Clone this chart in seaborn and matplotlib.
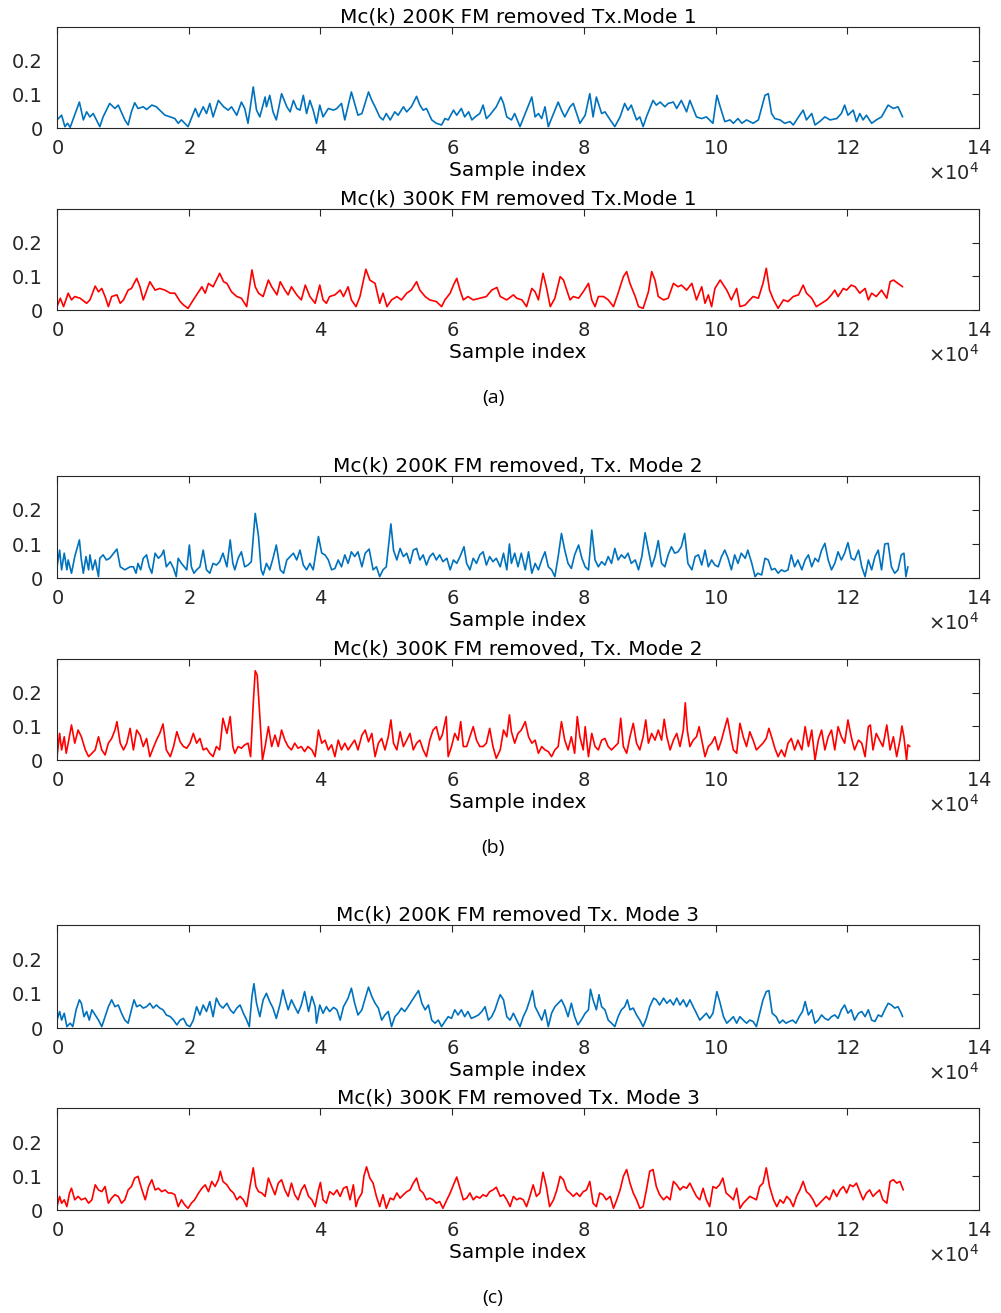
import numpy as np
import matplotlib
matplotlib.use("Agg")
import matplotlib.pyplot as plt
import seaborn as sns

# Sample positions are given in units of 1e4 samples, magnitudes of Mc(k).

# Tx. Mode 1, 200K FM removed
m1_200_k = [0.00, 0.07, 0.12, 0.16, 0.20, 0.34, 0.40, 0.45, 0.50, 0.55, 0.65, 0.70, 0.80, 0.88, 0.93,
            1.03, 1.08, 1.13, 1.18, 1.23, 1.31, 1.36, 1.44, 1.51, 1.56, 1.64, 1.72, 1.79, 1.84, 1.89,
            1.99, 2.10, 2.15, 2.22, 2.27, 2.32, 2.37, 2.45, 2.53, 2.60, 2.65, 2.73, 2.80, 2.85, 2.90,
            2.98, 3.03, 3.08, 3.16, 3.18, 3.23, 3.28, 3.33, 3.41, 3.49, 3.54, 3.59, 3.64, 3.69, 3.74,
            3.79, 3.84, 3.89, 3.94, 3.99, 4.04, 4.12, 4.20, 4.25, 4.32, 4.37, 4.47, 4.52, 4.57, 4.63,
            4.73, 4.78, 4.83, 4.90, 4.95, 5.00, 5.06, 5.13, 5.18, 5.26, 5.31, 5.38, 5.46, 5.51, 5.56,
            5.61, 5.69, 5.76, 5.84, 5.89, 5.94, 6.02, 6.07, 6.14, 6.19, 6.25, 6.30, 6.35, 6.42, 6.47,
            6.52, 6.57, 6.67, 6.74, 6.78, 6.83, 6.90, 6.95, 7.03, 7.11, 7.21, 7.26, 7.31, 7.36, 7.41,
            7.46, 7.54, 7.61, 7.66, 7.71, 7.79, 7.84, 7.89, 7.94, 8.02, 8.09, 8.14, 8.19, 8.27, 8.32,
            8.40, 8.47, 8.55, 8.62, 8.67, 8.72, 8.80, 8.85, 8.90, 8.95, 9.05, 9.10, 9.16, 9.23, 9.28,
            9.36, 9.41, 9.48, 9.56, 9.61, 9.71, 9.79, 9.86, 9.96, 10.02, 10.07, 10.14, 10.22, 10.27,
            10.34, 10.40, 10.47, 10.57, 10.65, 10.75, 10.80, 10.85, 10.90, 10.98, 11.05, 11.13, 11.18,
            11.26, 11.33, 11.38, 11.46, 11.51, 11.58, 11.66, 11.74, 11.84, 11.91, 11.96, 12.01, 12.09,
            12.14, 12.19, 12.24, 12.29, 12.37, 12.44, 12.52, 12.62, 12.70, 12.77, 12.84]
m1_200_v = [0.024, 0.038, 0.004, 0.014, 0.002, 0.077, 0.024, 0.048, 0.033, 0.043, 0.004, 0.033, 0.073, 0.058, 0.068,
            0.024, 0.009, 0.048, 0.075, 0.058, 0.063, 0.055, 0.068, 0.063, 0.053, 0.038, 0.033, 0.028, 0.014, 0.024,
            0.004, 0.058, 0.033, 0.063, 0.043, 0.073, 0.033, 0.082, 0.063, 0.053, 0.063, 0.038, 0.077, 0.058, 0.014,
            0.122, 0.053, 0.033, 0.092, 0.063, 0.097, 0.048, 0.024, 0.102, 0.063, 0.048, 0.082, 0.058, 0.053, 0.097,
            0.043, 0.082, 0.053, 0.014, 0.068, 0.033, 0.058, 0.053, 0.058, 0.073, 0.024, 0.107, 0.073, 0.038, 0.043,
            0.107, 0.082, 0.063, 0.033, 0.024, 0.043, 0.024, 0.048, 0.038, 0.063, 0.048, 0.063, 0.094, 0.068, 0.053,
            0.058, 0.024, 0.014, 0.009, 0.028, 0.024, 0.053, 0.038, 0.058, 0.033, 0.048, 0.024, 0.033, 0.043, 0.068,
            0.028, 0.038, 0.063, 0.092, 0.073, 0.033, 0.024, 0.043, 0.004, 0.043, 0.092, 0.033, 0.043, 0.028, 0.063,
            0.004, 0.043, 0.077, 0.053, 0.033, 0.063, 0.073, 0.043, 0.014, 0.038, 0.102, 0.033, 0.092, 0.043, 0.048,
            0.024, 0.004, 0.033, 0.073, 0.053, 0.068, 0.024, 0.033, 0.004, 0.033, 0.082, 0.068, 0.077, 0.063, 0.073,
            0.077, 0.058, 0.082, 0.048, 0.082, 0.033, 0.028, 0.033, 0.014, 0.097, 0.063, 0.019, 0.024, 0.014,
            0.028, 0.014, 0.024, 0.014, 0.024, 0.097, 0.102, 0.043, 0.028, 0.024, 0.014, 0.019, 0.009,
            0.033, 0.053, 0.024, 0.043, 0.009, 0.019, 0.033, 0.024, 0.028, 0.043, 0.068, 0.038, 0.053,
            0.019, 0.043, 0.024, 0.038, 0.014, 0.024, 0.033, 0.068, 0.058, 0.063, 0.033]

# Tx. Mode 1, 300K FM removed
m1_300_k = [0.00, 0.05, 0.10, 0.17, 0.22, 0.27, 0.35, 0.45, 0.50, 0.58, 0.63, 0.68, 0.73, 0.78, 0.83,
            0.91, 0.96, 1.01, 1.08, 1.13, 1.21, 1.26, 1.31, 1.41, 1.49, 1.56, 1.64, 1.72, 1.79, 1.87,
            1.92, 1.99, 2.07, 2.12, 2.20, 2.25, 2.30, 2.37, 2.42, 2.47, 2.53, 2.58, 2.65, 2.73, 2.80,
            2.88, 2.96, 3.01, 3.06, 3.13, 3.21, 3.26, 3.34, 3.39, 3.46, 3.51, 3.56, 3.64, 3.71, 3.77,
            3.84, 3.92, 3.99, 4.04, 4.09, 4.14, 4.22, 4.30, 4.35, 4.42, 4.47, 4.54, 4.60, 4.69, 4.75,
            4.83, 4.90, 4.95, 5.01, 5.08, 5.16, 5.23, 5.31, 5.38, 5.46, 5.51, 5.59, 5.66, 5.76, 5.84,
            5.89, 5.97, 6.02, 6.07, 6.12, 6.17, 6.24, 6.32, 6.42, 6.52, 6.60, 6.68, 6.73, 6.83, 6.93,
            6.98, 7.06, 7.13, 7.21, 7.26, 7.31, 7.38, 7.43, 7.49, 7.56, 7.64, 7.69, 7.74, 7.79, 7.84,
            7.92, 7.99, 8.07, 8.12, 8.17, 8.22, 8.30, 8.37, 8.45, 8.52, 8.60, 8.65, 8.70, 8.78, 8.83,
            8.90, 8.98, 9.03, 9.08, 9.13, 9.21, 9.28, 9.36, 9.43, 9.48, 9.56, 9.64, 9.71, 9.79, 9.84,
            9.89, 9.94, 9.99, 10.07, 10.12, 10.17, 10.24, 10.32, 10.37, 10.45, 10.52, 10.57, 10.65,
            10.72, 10.77, 10.82, 10.88, 10.95, 11.03, 11.10, 11.18, 11.26, 11.33, 11.38, 11.46, 11.53,
            11.61, 11.69, 11.76, 11.81, 11.86, 11.94, 11.99, 12.06, 12.12, 12.19, 12.27, 12.32, 12.37,
            12.44, 12.52, 12.60, 12.65, 12.70, 12.77, 12.84]
m1_300_v = [0.010, 0.035, 0.010, 0.050, 0.030, 0.040, 0.035, 0.020, 0.030, 0.071, 0.054, 0.064, 0.040, 0.010, 0.040,
            0.045, 0.020, 0.030, 0.059, 0.064, 0.094, 0.069, 0.030, 0.084, 0.059, 0.064, 0.059, 0.050, 0.050, 0.025,
            0.015, 0.005, 0.030, 0.045, 0.069, 0.050, 0.079, 0.069, 0.089, 0.109, 0.084, 0.079, 0.054, 0.040, 0.035,
            0.010, 0.119, 0.069, 0.050, 0.040, 0.089, 0.069, 0.045, 0.084, 0.059, 0.045, 0.069, 0.045, 0.030, 0.074,
            0.040, 0.020, 0.074, 0.030, 0.020, 0.040, 0.045, 0.059, 0.040, 0.069, 0.030, 0.010, 0.040, 0.121, 0.089,
            0.079, 0.020, 0.050, 0.010, 0.030, 0.040, 0.030, 0.050, 0.059, 0.084, 0.059, 0.040, 0.030, 0.025, 0.010,
            0.030, 0.050, 0.074, 0.094, 0.059, 0.030, 0.040, 0.030, 0.035, 0.040, 0.059, 0.067, 0.040, 0.030, 0.045,
            0.035, 0.030, 0.010, 0.064, 0.054, 0.030, 0.109, 0.069, 0.010, 0.035, 0.099, 0.089, 0.059, 0.030, 0.040,
            0.035, 0.054, 0.079, 0.030, 0.010, 0.040, 0.040, 0.030, 0.010, 0.050, 0.099, 0.114, 0.079, 0.040, 0.010,
            0.005, 0.054, 0.114, 0.089, 0.040, 0.030, 0.035, 0.079, 0.069, 0.074, 0.059, 0.079, 0.030, 0.069, 0.020,
            0.045, 0.010, 0.064, 0.089, 0.074, 0.059, 0.030, 0.064, 0.010, 0.015, 0.030, 0.040, 0.035,
            0.079, 0.124, 0.059, 0.030, 0.005, 0.030, 0.025, 0.040, 0.045, 0.074, 0.050, 0.035, 0.010,
            0.020, 0.030, 0.045, 0.059, 0.040, 0.064, 0.059, 0.074, 0.069, 0.050, 0.064, 0.030, 0.050,
            0.040, 0.059, 0.035, 0.084, 0.089, 0.079, 0.069]

# Tx. Mode 2, 200K FM removed
m2_200_k = [0.00, 0.04, 0.07, 0.11, 0.15, 0.17, 0.22, 0.27, 0.34, 0.37, 0.40, 0.44, 0.48, 0.50, 0.54,
            0.58, 0.63, 0.65, 0.70, 0.75, 0.80, 0.86, 0.91, 0.96, 1.03, 1.11, 1.16, 1.20, 1.23, 1.27,
            1.31, 1.36, 1.40, 1.44, 1.49, 1.54, 1.59, 1.62, 1.66, 1.72, 1.77, 1.81, 1.84, 1.89, 1.97,
            2.01, 2.04, 2.08, 2.12, 2.17, 2.22, 2.27, 2.32, 2.37, 2.42, 2.47, 2.52, 2.58, 2.63, 2.67,
            2.70, 2.75, 2.80, 2.85, 2.90, 2.95, 3.01, 3.06, 3.10, 3.13, 3.18, 3.23, 3.28, 3.33, 3.39,
            3.44, 3.49, 3.54, 3.59, 3.64, 3.69, 3.74, 3.79, 3.84, 3.89, 3.97, 4.02, 4.07, 4.12, 4.17,
            4.22, 4.27, 4.32, 4.37, 4.42, 4.47, 4.52, 4.57, 4.63, 4.68, 4.74, 4.80, 4.85, 4.90, 4.95,
            5.00, 5.07, 5.11, 5.16, 5.21, 5.26, 5.31, 5.36, 5.41, 5.46, 5.51, 5.56, 5.61, 5.66, 5.71,
            5.76, 5.81, 5.86, 5.92, 5.97, 6.02, 6.07, 6.12, 6.18, 6.22, 6.27, 6.32, 6.37, 6.42, 6.47,
            6.52, 6.57, 6.62, 6.67, 6.73, 6.78, 6.83, 6.87, 6.90, 6.95, 7.00, 7.05, 7.11, 7.16, 7.21,
            7.26, 7.31, 7.36, 7.41, 7.46, 7.51, 7.56, 7.61, 7.66, 7.71, 7.76, 7.81, 7.86, 7.92, 7.97,
            8.02, 8.07, 8.12, 8.17, 8.22, 8.27, 8.32, 8.37, 8.42, 8.47, 8.52, 8.57, 8.62, 8.67, 8.72,
            8.78, 8.83, 8.88, 8.93, 8.98, 9.03, 9.08, 9.13, 9.18, 9.23, 9.28, 9.33, 9.38, 9.43, 9.48,
            9.53, 9.58, 9.64, 9.69, 9.74, 9.79, 9.84, 9.89, 9.94, 9.99, 10.04, 10.09, 10.14, 10.19,
            10.24, 10.29, 10.34, 10.39, 10.45, 10.49, 10.55, 10.60, 10.64, 10.70, 10.75, 10.80, 10.85,
            10.90, 10.95, 11.00, 11.05, 11.10, 11.15, 11.20, 11.25, 11.31, 11.36, 11.41, 11.46, 11.51,
            11.56, 11.61, 11.66, 11.71, 11.76, 11.81, 11.86, 11.91, 11.96, 12.01, 12.06, 12.11, 12.17,
            12.22, 12.27, 12.32, 12.37, 12.42, 12.47, 12.52, 12.57, 12.62, 12.67, 12.72, 12.77, 12.82,
            12.86, 12.89, 12.92]
m2_200_v = [0.033, 0.082, 0.024, 0.073, 0.024, 0.053, 0.014, 0.063, 0.112, 0.053, 0.014, 0.063, 0.024, 0.068, 0.024,
            0.053, 0.004, 0.058, 0.068, 0.053, 0.058, 0.073, 0.085, 0.033, 0.024, 0.033, 0.033, 0.014, 0.043, 0.024,
            0.058, 0.068, 0.033, 0.014, 0.073, 0.058, 0.068, 0.082, 0.033, 0.048, 0.028, 0.004, 0.058, 0.043, 0.024,
            0.097, 0.033, 0.014, 0.024, 0.033, 0.082, 0.024, 0.014, 0.043, 0.038, 0.048, 0.073, 0.033, 0.112, 0.043,
            0.024, 0.058, 0.077, 0.033, 0.038, 0.048, 0.190, 0.122, 0.024, 0.009, 0.043, 0.024, 0.058, 0.097, 0.024,
            0.014, 0.053, 0.063, 0.073, 0.053, 0.082, 0.038, 0.024, 0.043, 0.024, 0.122, 0.073, 0.068, 0.053, 0.024,
            0.028, 0.053, 0.033, 0.068, 0.043, 0.077, 0.063, 0.077, 0.033, 0.073, 0.085, 0.024, 0.033, 0.004, 0.024,
            0.033, 0.159, 0.082, 0.053, 0.087, 0.063, 0.073, 0.043, 0.082, 0.087, 0.053, 0.068, 0.038, 0.063, 0.073,
            0.053, 0.068, 0.048, 0.058, 0.024, 0.053, 0.043, 0.063, 0.092, 0.043, 0.024, 0.058, 0.043, 0.068, 0.077,
            0.038, 0.063, 0.048, 0.058, 0.033, 0.073, 0.024, 0.100, 0.043, 0.073, 0.033, 0.073, 0.024, 0.077, 0.014,
            0.043, 0.024, 0.053, 0.077, 0.033, 0.024, 0.004, 0.063, 0.131, 0.082, 0.043, 0.028, 0.068, 0.097, 0.058,
            0.033, 0.024, 0.141, 0.053, 0.033, 0.048, 0.038, 0.063, 0.043, 0.087, 0.053, 0.068, 0.058, 0.073, 0.043,
            0.053, 0.024, 0.063, 0.133, 0.082, 0.033, 0.063, 0.110, 0.043, 0.033, 0.068, 0.092, 0.073, 0.077, 0.092,
            0.131, 0.043, 0.024, 0.063, 0.068, 0.038, 0.082, 0.033, 0.053, 0.038, 0.033, 0.063, 0.082, 0.058,
            0.024, 0.068, 0.043, 0.073, 0.058, 0.082, 0.043, 0.004, 0.014, 0.009, 0.058, 0.053, 0.024,
            0.028, 0.014, 0.024, 0.019, 0.024, 0.068, 0.033, 0.053, 0.024, 0.053, 0.068, 0.033, 0.058,
            0.048, 0.082, 0.102, 0.053, 0.024, 0.043, 0.077, 0.053, 0.073, 0.104, 0.058, 0.053, 0.082,
            0.033, 0.004, 0.053, 0.024, 0.063, 0.082, 0.024, 0.100, 0.102, 0.033, 0.014, 0.024, 0.068,
            0.073, 0.004, 0.033]

# Tx. Mode 2, 300K FM removed
m2_300_k = [0.00, 0.04, 0.07, 0.11, 0.14, 0.17, 0.22, 0.27, 0.32, 0.37, 0.43, 0.48, 0.53, 0.58, 0.63,
            0.68, 0.73, 0.78, 0.83, 0.88, 0.91, 0.96, 1.01, 1.06, 1.11, 1.16, 1.21, 1.26, 1.31, 1.36,
            1.41, 1.46, 1.51, 1.56, 1.61, 1.66, 1.72, 1.77, 1.82, 1.87, 1.92, 1.97, 2.02, 2.07, 2.12,
            2.17, 2.22, 2.27, 2.32, 2.37, 2.42, 2.47, 2.52, 2.58, 2.63, 2.67, 2.70, 2.75, 2.80, 2.85,
            2.90, 2.94, 2.98, 3.01, 3.04, 3.08, 3.12, 3.16, 3.21, 3.26, 3.31, 3.36, 3.41, 3.46, 3.51,
            3.56, 3.61, 3.66, 3.71, 3.76, 3.81, 3.87, 3.92, 3.97, 4.02, 4.07, 4.12, 4.17, 4.22, 4.27,
            4.32, 4.37, 4.42, 4.47, 4.52, 4.57, 4.63, 4.68, 4.73, 4.78, 4.83, 4.88, 4.93, 4.98, 5.03,
            5.07, 5.11, 5.16, 5.21, 5.26, 5.31, 5.36, 5.41, 5.46, 5.51, 5.56, 5.61, 5.66, 5.71, 5.76,
            5.81, 5.85, 5.91, 5.94, 5.99, 6.04, 6.09, 6.13, 6.17, 6.22, 6.27, 6.32, 6.37, 6.42, 6.47,
            6.52, 6.57, 6.62, 6.67, 6.73, 6.78, 6.83, 6.87, 6.90, 6.95, 7.00, 7.05, 7.11, 7.16, 7.21,
            7.26, 7.31, 7.36, 7.41, 7.46, 7.51, 7.56, 7.61, 7.66, 7.71, 7.76, 7.81, 7.86, 7.90, 7.94,
            7.99, 8.02, 8.07, 8.12, 8.17, 8.22, 8.27, 8.32, 8.37, 8.42, 8.47, 8.52, 8.56, 8.60, 8.65,
            8.70, 8.75, 8.80, 8.85, 8.90, 8.94, 8.98, 9.03, 9.08, 9.13, 9.18, 9.22, 9.26, 9.31, 9.36,
            9.41, 9.46, 9.51, 9.54, 9.57, 9.61, 9.66, 9.71, 9.75, 9.79, 9.84, 9.89, 9.94, 9.99, 10.04,
            10.09, 10.13, 10.18, 10.23, 10.27, 10.32, 10.37, 10.42, 10.47, 10.52, 10.57, 10.62, 10.67,
            10.72, 10.77, 10.81, 10.85, 10.90, 10.95, 11.00, 11.05, 11.10, 11.15, 11.20, 11.25, 11.31,
            11.36, 11.41, 11.46, 11.51, 11.56, 11.61, 11.66, 11.71, 11.76, 11.81, 11.86, 11.91, 11.96,
            12.01, 12.06, 12.11, 12.17, 12.22, 12.27, 12.32, 12.35, 12.39, 12.44, 12.49, 12.54, 12.60,
            12.65, 12.70, 12.75, 12.80, 12.83, 12.86, 12.90, 12.92, 12.95]
m2_300_v = [0.010, 0.079, 0.030, 0.069, 0.020, 0.050, 0.104, 0.050, 0.089, 0.069, 0.030, 0.010, 0.020, 0.030, 0.069,
            0.030, 0.015, 0.050, 0.064, 0.089, 0.114, 0.050, 0.030, 0.050, 0.094, 0.030, 0.089, 0.074, 0.040, 0.064,
            0.010, 0.035, 0.059, 0.079, 0.107, 0.030, 0.010, 0.040, 0.084, 0.054, 0.040, 0.035, 0.050, 0.079, 0.050,
            0.064, 0.030, 0.035, 0.020, 0.010, 0.040, 0.030, 0.124, 0.079, 0.129, 0.040, 0.020, 0.040, 0.035, 0.045,
            0.050, 0.010, 0.168, 0.265, 0.252, 0.129, 0.000, 0.040, 0.099, 0.040, 0.074, 0.040, 0.089, 0.059, 0.040,
            0.030, 0.050, 0.035, 0.040, 0.025, 0.040, 0.030, 0.010, 0.089, 0.050, 0.059, 0.030, 0.045, 0.010, 0.059,
            0.030, 0.050, 0.030, 0.045, 0.059, 0.030, 0.074, 0.089, 0.054, 0.079, 0.010, 0.050, 0.064, 0.030, 0.069,
            0.119, 0.050, 0.030, 0.084, 0.040, 0.059, 0.079, 0.030, 0.050, 0.059, 0.030, 0.010, 0.059, 0.089, 0.099,
            0.059, 0.074, 0.129, 0.010, 0.040, 0.079, 0.059, 0.114, 0.040, 0.040, 0.069, 0.099, 0.059, 0.040, 0.040,
            0.050, 0.094, 0.040, 0.005, 0.030, 0.089, 0.069, 0.134, 0.084, 0.050, 0.079, 0.089, 0.114, 0.069, 0.050,
            0.059, 0.020, 0.040, 0.030, 0.025, 0.010, 0.030, 0.040, 0.114, 0.059, 0.030, 0.069, 0.020, 0.129, 0.069,
            0.030, 0.099, 0.010, 0.079, 0.040, 0.030, 0.059, 0.064, 0.040, 0.030, 0.040, 0.050, 0.124, 0.040, 0.020,
            0.069, 0.109, 0.050, 0.030, 0.069, 0.119, 0.050, 0.079, 0.059, 0.089, 0.059, 0.121, 0.069, 0.030, 0.059,
            0.079, 0.040, 0.089, 0.170, 0.089, 0.040, 0.059, 0.069, 0.099, 0.059, 0.010, 0.040, 0.050, 0.069, 0.030,
            0.059, 0.089, 0.124, 0.069, 0.030, 0.020, 0.109, 0.069, 0.040, 0.084, 0.059, 0.030, 0.040,
            0.050, 0.064, 0.094, 0.069, 0.035, 0.010, 0.030, 0.010, 0.050, 0.064, 0.030, 0.059, 0.030,
            0.099, 0.040, 0.089, 0.000, 0.059, 0.089, 0.030, 0.069, 0.089, 0.030, 0.099, 0.069, 0.050,
            0.119, 0.069, 0.030, 0.059, 0.050, 0.010, 0.099, 0.104, 0.030, 0.079, 0.059, 0.040, 0.104,
            0.030, 0.069, 0.010, 0.059, 0.101, 0.069, 0.000, 0.045, 0.040]

# Tx. Mode 3, 200K FM removed
m3_200_k = [0.00, 0.04, 0.07, 0.11, 0.15, 0.20, 0.24, 0.29, 0.34, 0.37, 0.41, 0.45, 0.49, 0.53, 0.58,
            0.63, 0.68, 0.73, 0.78, 0.83, 0.88, 0.93, 0.98, 1.03, 1.08, 1.13, 1.17, 1.21, 1.26, 1.31,
            1.36, 1.41, 1.46, 1.51, 1.56, 1.61, 1.66, 1.72, 1.77, 1.82, 1.87, 1.92, 1.97, 2.02, 2.07,
            2.12, 2.17, 2.22, 2.27, 2.32, 2.37, 2.42, 2.47, 2.52, 2.58, 2.63, 2.68, 2.73, 2.78, 2.83,
            2.88, 2.92, 2.96, 2.99, 3.03, 3.08, 3.13, 3.18, 3.23, 3.28, 3.33, 3.39, 3.43, 3.46, 3.51,
            3.56, 3.61, 3.66, 3.71, 3.76, 3.82, 3.87, 3.92, 3.94, 3.99, 4.04, 4.09, 4.14, 4.20, 4.25,
            4.30, 4.35, 4.42, 4.47, 4.52, 4.57, 4.63, 4.68, 4.73, 4.78, 4.83, 4.88, 4.93, 4.98, 5.03,
            5.08, 5.13, 5.18, 5.23, 5.28, 5.33, 5.38, 5.43, 5.49, 5.54, 5.59, 5.64, 5.69, 5.74, 5.79,
            5.84, 5.89, 5.94, 5.99, 6.04, 6.09, 6.14, 6.19, 6.24, 6.29, 6.35, 6.40, 6.45, 6.50, 6.55,
            6.60, 6.65, 6.70, 6.73, 6.78, 6.83, 6.88, 6.93, 6.98, 7.03, 7.08, 7.13, 7.18, 7.22, 7.26,
            7.31, 7.36, 7.41, 7.46, 7.51, 7.56, 7.61, 7.66, 7.71, 7.76, 7.81, 7.86, 7.91, 7.96, 8.02,
            8.07, 8.10, 8.14, 8.19, 8.23, 8.27, 8.32, 8.37, 8.42, 8.47, 8.52, 8.57, 8.62, 8.66, 8.70,
            8.75, 8.80, 8.85, 8.90, 8.95, 9.00, 9.06, 9.10, 9.15, 9.21, 9.26, 9.31, 9.36, 9.41, 9.46,
            9.51, 9.56, 9.61, 9.66, 9.71, 9.76, 9.81, 9.86, 9.91, 9.96, 10.02, 10.07, 10.12, 10.17,
            10.22, 10.27, 10.32, 10.37, 10.42, 10.47, 10.52, 10.57, 10.62, 10.67, 10.72, 10.77, 10.81,
            10.86, 10.92, 10.97, 11.02, 11.07, 11.12, 11.17, 11.22, 11.27, 11.32, 11.36, 11.41, 11.46,
            11.51, 11.56, 11.61, 11.66, 11.71, 11.76, 11.81, 11.86, 11.91, 11.96, 12.01, 12.06, 12.11,
            12.17, 12.22, 12.27, 12.32, 12.37, 12.42, 12.47, 12.52, 12.57, 12.62, 12.67, 12.72, 12.77,
            12.82, 12.84]
m3_200_v = [0.023, 0.048, 0.023, 0.043, 0.004, 0.014, 0.004, 0.053, 0.082, 0.072, 0.033, 0.048, 0.023, 0.053, 0.038,
            0.023, 0.004, 0.033, 0.062, 0.082, 0.062, 0.067, 0.043, 0.023, 0.014, 0.053, 0.082, 0.062, 0.067, 0.058,
            0.062, 0.072, 0.058, 0.067, 0.058, 0.053, 0.038, 0.033, 0.023, 0.009, 0.023, 0.028, 0.009, 0.004, 0.023,
            0.062, 0.038, 0.067, 0.048, 0.077, 0.033, 0.087, 0.067, 0.058, 0.072, 0.053, 0.043, 0.058, 0.067, 0.043,
            0.023, 0.004, 0.092, 0.129, 0.072, 0.033, 0.082, 0.101, 0.077, 0.058, 0.028, 0.072, 0.111, 0.087, 0.053,
            0.082, 0.062, 0.043, 0.067, 0.106, 0.048, 0.092, 0.062, 0.014, 0.067, 0.043, 0.062, 0.048, 0.060, 0.053,
            0.023, 0.062, 0.087, 0.116, 0.072, 0.038, 0.053, 0.087, 0.119, 0.092, 0.072, 0.058, 0.023, 0.038, 0.048,
            0.004, 0.033, 0.043, 0.058, 0.048, 0.062, 0.077, 0.092, 0.109, 0.072, 0.053, 0.067, 0.023, 0.014, 0.023,
            0.004, 0.019, 0.033, 0.028, 0.053, 0.038, 0.053, 0.033, 0.048, 0.028, 0.033, 0.038, 0.048, 0.062, 0.023,
            0.033, 0.053, 0.082, 0.097, 0.082, 0.033, 0.023, 0.043, 0.023, 0.004, 0.033, 0.053, 0.082, 0.109, 0.062,
            0.043, 0.023, 0.053, 0.004, 0.043, 0.062, 0.072, 0.082, 0.062, 0.033, 0.072, 0.033, 0.009, 0.023, 0.043,
            0.053, 0.113, 0.082, 0.053, 0.097, 0.062, 0.053, 0.023, 0.014, 0.004, 0.033, 0.053, 0.062, 0.082, 0.053,
            0.058, 0.038, 0.023, 0.004, 0.028, 0.062, 0.087, 0.082, 0.067, 0.087, 0.072, 0.082, 0.067, 0.087, 0.067,
            0.082, 0.062, 0.082, 0.062, 0.043, 0.023, 0.033, 0.043, 0.028, 0.043, 0.106, 0.072, 0.033, 0.014,
            0.023, 0.033, 0.014, 0.033, 0.023, 0.014, 0.023, 0.019, 0.004, 0.043, 0.082, 0.106, 0.109,
            0.043, 0.033, 0.014, 0.023, 0.014, 0.019, 0.023, 0.014, 0.033, 0.048, 0.077, 0.038, 0.053,
            0.014, 0.023, 0.038, 0.028, 0.023, 0.033, 0.038, 0.028, 0.053, 0.067, 0.043, 0.053, 0.023,
            0.043, 0.048, 0.033, 0.053, 0.023, 0.019, 0.038, 0.033, 0.053, 0.072, 0.067, 0.058, 0.062,
            0.043, 0.033]

# Tx. Mode 3, 300K FM removed
m3_300_k = [0.00, 0.04, 0.07, 0.11, 0.15, 0.19, 0.22, 0.27, 0.32, 0.37, 0.43, 0.48, 0.53, 0.58, 0.63,
            0.68, 0.73, 0.78, 0.83, 0.88, 0.93, 0.98, 1.03, 1.08, 1.13, 1.18, 1.23, 1.29, 1.34, 1.39,
            1.44, 1.49, 1.54, 1.59, 1.64, 1.69, 1.74, 1.79, 1.84, 1.89, 1.94, 1.99, 2.04, 2.09, 2.15,
            2.20, 2.25, 2.30, 2.35, 2.40, 2.45, 2.48, 2.52, 2.58, 2.63, 2.68, 2.73, 2.78, 2.83, 2.88,
            2.93, 2.98, 3.02, 3.06, 3.11, 3.16, 3.21, 3.26, 3.31, 3.36, 3.41, 3.46, 3.51, 3.56, 3.61,
            3.66, 3.71, 3.76, 3.82, 3.87, 3.92, 3.97, 4.00, 4.04, 4.09, 4.14, 4.20, 4.25, 4.30, 4.35,
            4.40, 4.45, 4.50, 4.54, 4.57, 4.63, 4.66, 4.70, 4.75, 4.80, 4.85, 4.90, 4.95, 5.00, 5.06,
            5.11, 5.16, 5.21, 5.26, 5.31, 5.36, 5.41, 5.46, 5.51, 5.56, 5.61, 5.66, 5.71, 5.76, 5.81,
            5.86, 5.92, 5.97, 6.02, 6.07, 6.12, 6.17, 6.22, 6.27, 6.32, 6.37, 6.42, 6.47, 6.52, 6.57,
            6.62, 6.67, 6.73, 6.78, 6.83, 6.88, 6.93, 6.98, 7.03, 7.08, 7.13, 7.18, 7.23, 7.28, 7.33,
            7.38, 7.43, 7.48, 7.54, 7.59, 7.64, 7.69, 7.74, 7.79, 7.84, 7.89, 7.94, 7.99, 8.04, 8.09,
            8.14, 8.19, 8.24, 8.29, 8.34, 8.40, 8.45, 8.50, 8.55, 8.60, 8.65, 8.70, 8.75, 8.80, 8.85,
            8.90, 8.95, 9.00, 9.05, 9.10, 9.15, 9.21, 9.26, 9.31, 9.36, 9.41, 9.46, 9.51, 9.56, 9.61,
            9.66, 9.71, 9.76, 9.81, 9.86, 9.91, 9.96, 10.01, 10.06, 10.11, 10.16, 10.22, 10.27, 10.32,
            10.37, 10.42, 10.47, 10.52, 10.57, 10.62, 10.67, 10.72, 10.77, 10.82, 10.88, 10.93, 10.98,
            11.03, 11.08, 11.13, 11.18, 11.23, 11.28, 11.33, 11.38, 11.43, 11.48, 11.53, 11.58, 11.63,
            11.68, 11.73, 11.79, 11.84, 11.89, 11.94, 11.99, 12.04, 12.09, 12.14, 12.19, 12.24, 12.29,
            12.34, 12.39, 12.44, 12.49, 12.54, 12.60, 12.65, 12.70, 12.75, 12.80, 12.85]
m3_300_v = [0.010, 0.040, 0.020, 0.030, 0.010, 0.050, 0.064, 0.030, 0.040, 0.030, 0.035, 0.020, 0.030, 0.074, 0.059,
            0.054, 0.069, 0.020, 0.035, 0.045, 0.040, 0.020, 0.030, 0.059, 0.069, 0.094, 0.099, 0.059, 0.030, 0.069,
            0.089, 0.059, 0.064, 0.054, 0.059, 0.050, 0.050, 0.045, 0.010, 0.030, 0.015, 0.005, 0.020, 0.030, 0.050,
            0.064, 0.074, 0.054, 0.084, 0.069, 0.089, 0.114, 0.084, 0.074, 0.059, 0.050, 0.030, 0.040, 0.030, 0.010,
            0.069, 0.124, 0.069, 0.054, 0.050, 0.040, 0.094, 0.069, 0.045, 0.079, 0.089, 0.059, 0.040, 0.079, 0.045,
            0.030, 0.059, 0.074, 0.040, 0.030, 0.010, 0.059, 0.081, 0.030, 0.020, 0.054, 0.045, 0.059, 0.040, 0.064,
            0.069, 0.030, 0.074, 0.010, 0.030, 0.050, 0.099, 0.127, 0.094, 0.079, 0.040, 0.010, 0.045, 0.005, 0.035,
            0.030, 0.050, 0.035, 0.045, 0.054, 0.059, 0.079, 0.094, 0.059, 0.050, 0.030, 0.035, 0.030, 0.020, 0.025,
            0.005, 0.030, 0.050, 0.074, 0.097, 0.064, 0.030, 0.035, 0.050, 0.030, 0.040, 0.035, 0.045, 0.040, 0.054,
            0.059, 0.067, 0.040, 0.045, 0.030, 0.010, 0.040, 0.030, 0.035, 0.030, 0.010, 0.040, 0.074, 0.040, 0.050,
            0.111, 0.069, 0.010, 0.030, 0.059, 0.099, 0.089, 0.059, 0.050, 0.040, 0.050, 0.040, 0.054, 0.059, 0.084,
            0.020, 0.010, 0.050, 0.045, 0.030, 0.040, 0.005, 0.030, 0.059, 0.099, 0.119, 0.079, 0.050, 0.030, 0.005,
            0.010, 0.059, 0.114, 0.119, 0.069, 0.045, 0.030, 0.040, 0.030, 0.084, 0.074, 0.059, 0.069, 0.064, 0.079,
            0.059, 0.040, 0.030, 0.064, 0.030, 0.010, 0.069, 0.064, 0.074, 0.094, 0.050, 0.040, 0.030, 0.064,
            0.005, 0.020, 0.030, 0.040, 0.035, 0.030, 0.069, 0.079, 0.124, 0.069, 0.030, 0.010, 0.030,
            0.020, 0.040, 0.030, 0.010, 0.040, 0.059, 0.084, 0.054, 0.045, 0.030, 0.010, 0.020, 0.030,
            0.040, 0.030, 0.059, 0.040, 0.059, 0.069, 0.050, 0.074, 0.069, 0.079, 0.054, 0.030, 0.050,
            0.059, 0.040, 0.050, 0.059, 0.030, 0.020, 0.084, 0.089, 0.079, 0.084, 0.059]

panels = [
    ("Mc(k) 200K FM removed Tx.Mode 1", m1_200_k, m1_200_v, "#0072BD"),
    ("Mc(k) 300K FM removed Tx.Mode 1", m1_300_k, m1_300_v, "#FF0000"),
    ("Mc(k) 200K FM removed, Tx. Mode 2", m2_200_k, m2_200_v, "#0072BD"),
    ("Mc(k) 300K FM removed, Tx. Mode 2", m2_300_k, m2_300_v, "#FF0000"),
    ("Mc(k) 200K FM removed Tx. Mode 3", m3_200_k, m3_200_v, "#0072BD"),
    ("Mc(k) 300K FM removed Tx. Mode 3", m3_300_k, m3_300_v, "#FF0000"),
]
group_labels = ["(a)", "(b)", "(c)"]

sns.set_theme(style="white")
plt.rcParams["font.family"] = ["DejaVu Sans"]
axis_grey = "#262626"

W, H = 1001, 1313
fig = plt.figure(figsize=(W / 100, H / 100), dpi=100)
fig.patch.set_facecolor("white")

# axes frames in pixel rows (top, bottom)
rows = [(27, 128), (209, 310), (476, 578), (659, 760), (925, 1028), (1108, 1210)]
left_px, right_px = 57, 979

for (title, k, v, color), (top, bot) in zip(panels, rows):
    ax = fig.add_axes([left_px / W, 1 - bot / H, (right_px - left_px) / W, (bot - top) / H])
    sns.lineplot(x=np.asarray(k) * 1e4, y=v, ax=ax, color=color, linewidth=1.2,
                 estimator=None, sort=False)
    ax.set_xlim(0, 14e4)
    ax.set_ylim(0, 0.3)
    ax.set_xticks(np.arange(0, 14.1e4, 2e4))
    ax.set_yticks([0, 0.1, 0.2])
    ax.set_yticklabels(["0", "0.1", "0.2"])
    # tick labels in units of 10^4 with the multiplier shown at the axis end
    ax.ticklabel_format(style="sci", axis="x", scilimits=(4, 4), useMathText=True)
    ax.xaxis.get_offset_text().set_fontsize(14)
    ax.xaxis.get_offset_text().set_color(axis_grey)
    ax.tick_params(direction="in", top=True, right=True, length=5, width=0.8,
                   labelsize=14, colors=axis_grey)
    ax.tick_params(axis="x", pad=8)
    ax.tick_params(axis="y", pad=10)
    for sp in ax.spines.values():
        sp.set_visible(True)
        sp.set_color(axis_grey)
        sp.set_linewidth(0.8)
    ax.set_title(title, fontsize=14.5, color="black", pad=3)
    ax.set_xlabel("Sample index", fontsize=14.5, color="black", labelpad=2)
    ax.set_ylabel("")

for lbl, y in zip(group_labels, [398, 848, 1298]):
    fig.text(493 / W, 1 - y / H, lbl, ha="center", va="center", fontsize=14,
             family=["Open Sans", "DejaVu Sans"], color="black")

fig.savefig("out.png", dpi=100, facecolor="white")
